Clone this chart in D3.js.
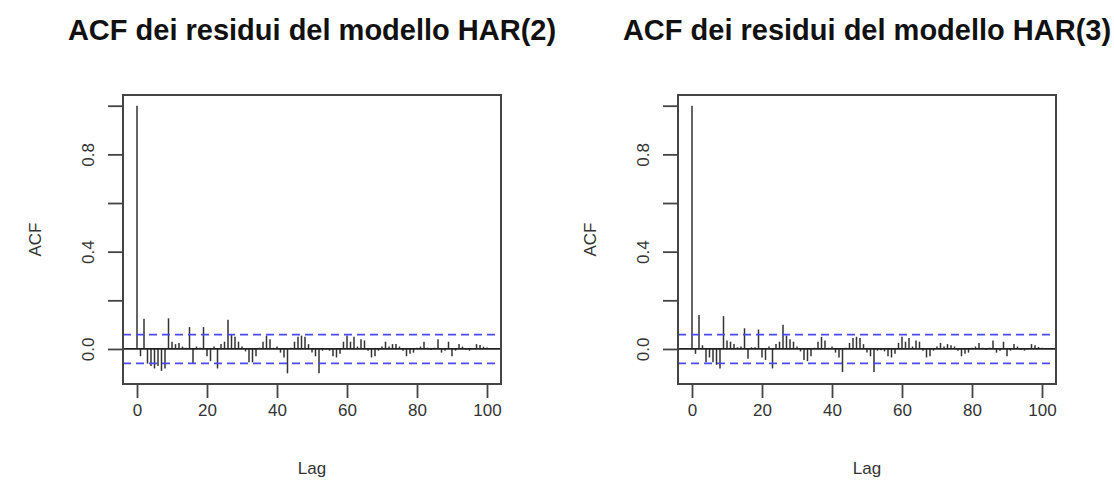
<!DOCTYPE html>
<html>
<head>
<meta charset="utf-8">
<script src="https://cdn.jsdelivr.net/npm/d3@7"></script>
<style>
  body { margin: 0; background: #fff; }
  text { font-family: "Liberation Sans", Arial, sans-serif; }
</style>
</head>
<body>
<script>
// lags 0..100
var lags = d3.range(0, 101);

var acfHar2 = [
  1.00, -0.03, 0.124, -0.06, -0.07, -0.08, -0.07, -0.09, -0.08, 0.126,
  0.03, 0.02, 0.025, 0.01, 0.005, 0.09, -0.06, 0.01, 0.005, 0.09,
  -0.03, -0.05, 0.01, -0.08, 0.02, 0.03, 0.12, 0.06, 0.05, 0.03,
  0.01, -0.01, -0.055, -0.055, -0.03, 0.005, 0.03, 0.055, 0.04, 0.005,
  0.01, -0.015, -0.035, -0.10, 0.005, 0.03, 0.05, 0.055, 0.05, 0.02,
  -0.015, -0.03, -0.10, -0.007, -0.003, -0.007, -0.03, -0.035, -0.02, 0.03,
  0.055, 0.03, 0.05, 0.01, 0.04, 0.035, -0.007, -0.035, -0.03, -0.007,
  0.01, 0.03, 0.01, 0.02, 0.02, 0.01, -0.007, -0.03, -0.02, -0.015,
  0.005, 0.01, 0.03, 0.005, -0.003, 0.005, 0.04, -0.015, -0.007, 0.03,
  -0.03, -0.007, 0.02, 0.01, -0.003, -0.007, 0.003, 0.02, 0.016, 0.009,
  0.006
];

var acfHar3 = [
  1.00, -0.02, 0.14, 0.015, -0.055, -0.035, -0.055, -0.065, -0.08, 0.135,
  0.035, 0.03, 0.02, 0.007, 0.01, 0.085, -0.04, 0.007, 0.007, 0.08,
  -0.035, -0.045, 0.01, -0.08, 0.02, 0.03, 0.10, 0.055, 0.04, 0.03,
  0.01, -0.01, -0.045, -0.05, -0.03, 0.005, 0.03, 0.05, 0.035, 0.005,
  0.01, -0.015, -0.035, -0.095, 0.005, 0.025, 0.045, 0.05, 0.045, 0.02,
  -0.015, -0.03, -0.095, -0.007, -0.005, -0.01, -0.03, -0.035, -0.02, 0.025,
  0.05, 0.03, 0.045, 0.01, 0.035, 0.03, -0.007, -0.035, -0.03, -0.007,
  0.01, 0.025, 0.01, 0.02, 0.015, 0.01, -0.007, -0.03, -0.02, -0.015,
  0.005, 0.01, 0.025, 0.005, -0.003, 0.005, 0.035, -0.015, -0.007, 0.03,
  -0.03, -0.007, 0.02, 0.01, -0.003, -0.007, 0.003, 0.02, 0.015, 0.008,
  0.005
];

var confBound = 0.059;
var xTicks = [0, 20, 40, 60, 80, 100];
var yTicks = [0, 0.2, 0.4, 0.6, 0.8, 1.0];
var yTickLabels = ["0.0", "", "0.4", "", "0.8", ""];
var titles = ["ACF dei residui del modello HAR(2)", "ACF dei residui del modello HAR(3)"];

var svg = d3.select("body").append("svg")
    .attr("width", 1114)
    .attr("height", 501);

function drawPanel(left, values, title) {
    var box = { x0: left, x1: left + 378, y0: 95, y1: 384 };
    var x = d3.scaleLinear().domain([-4, 104]).range([box.x0, box.x1]);
    var y = d3.scaleLinear().domain([-0.144, 1.044]).range([box.y1, box.y0]);
    var g = svg.append("g");

    // acf spikes
    g.selectAll("line.bar")
        .data(lags)
        .enter().append("line")
        .attr("class", "bar")
        .attr("x1", function(d) { return x(d); })
        .attr("x2", function(d) { return x(d); })
        .attr("y1", y(0))
        .attr("y2", function(d) { return y(values[d]); })
        .attr("stroke", "#333")
        .attr("stroke-width", 1.5);

    g.append("line")
        .attr("x1", box.x0).attr("x2", box.x1)
        .attr("y1", y(0)).attr("y2", y(0))
        .attr("stroke", "#222").attr("stroke-width", 1.8);

    [confBound, -confBound].forEach(function(c) {
        g.append("line")
            .attr("x1", box.x0).attr("x2", box.x1)
            .attr("y1", y(c)).attr("y2", y(c))
            .attr("stroke", "#4a4af0").attr("stroke-width", 1.8)
            .attr("stroke-dasharray", "8,5");
    });

    g.append("rect")
        .attr("x", box.x0).attr("y", box.y0)
        .attr("width", box.x1 - box.x0).attr("height", box.y1 - box.y0)
        .attr("fill", "none").attr("stroke", "#444").attr("stroke-width", 2);

    // x axis (R style, detached from box)
    var xAxis = g.append("g").attr("transform", "translate(0," + box.y1 + ")")
        .call(d3.axisBottom(x).tickValues(xTicks).tickSize(14).tickPadding(6));
    xAxis.select(".domain").remove();
    xAxis.selectAll("line").attr("stroke", "#444").attr("stroke-width", 1.8);
    xAxis.selectAll("text").attr("font-size", 17).attr("fill", "#333");

    var yAxis = g.append("g").attr("transform", "translate(" + box.x0 + ",0)")
        .call(d3.axisLeft(y).tickValues(yTicks).tickSize(15).tickFormat(function(d, i) { return yTickLabels[i]; }));
    yAxis.select(".domain").remove();
    yAxis.selectAll("line").attr("stroke", "#444").attr("stroke-width", 1.8);
    yAxis.selectAll("text")
        .attr("font-size", 17).attr("fill", "#333")
        .attr("x", null).attr("dy", null)
        .attr("text-anchor", "middle")
        .attr("transform", "translate(-35,0) rotate(-90)")
        .attr("dy", "0.35em");

    svg.append("text")
        .attr("x", (box.x0 + box.x1) / 2).attr("y", 40)
        .attr("text-anchor", "middle")
        .attr("font-size", 29).attr("font-weight", "bold").attr("fill", "#111")
        .text(title);

    svg.append("text")
        .attr("x", (box.x0 + box.x1) / 2).attr("y", 474)
        .attr("text-anchor", "middle")
        .attr("font-size", 17).attr("fill", "#333")
        .text("Lag");

    svg.append("text")
        .attr("transform", "translate(" + (box.x0 - 88) + "," + ((box.y0 + box.y1) / 2) + ") rotate(-90)")
        .attr("text-anchor", "middle").attr("dy", "0.35em")
        .attr("font-size", 17).attr("fill", "#333")
        .text("ACF");
}

drawPanel(123, acfHar2, titles[0]);
drawPanel(678, acfHar3, titles[1]);
</script>
</body>
</html>
